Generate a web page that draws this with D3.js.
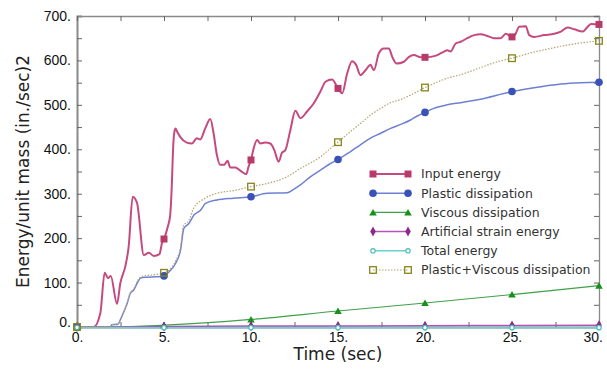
<!DOCTYPE html>
<html>
<head>
<meta charset="utf-8">
<script src="https://cdn.jsdelivr.net/npm/d3@7"></script>
<style>
  body { margin: 0; background: #fff; }
  svg { display: block; font-family: "DejaVu Sans", sans-serif; }
</style>
</head>
<body>
<div id="chart"></div>
<script>
// Energy histories

// Input energy
const inputT = [0, 0.96, 1.34, 1.59, 1.78, 1.94, 2.3, 2.49, 2.78, 2.97, 3.2, 3.45, 3.84, 4.13, 4.41, 4.74, 4.89, 5.0, 5.22, 5.35, 5.45, 5.52, 5.6, 5.66, 5.75, 5.93, 6.31, 6.6, 6.89, 7.08, 7.37, 7.66, 7.85, 8.04, 8.23, 8.46, 8.65, 8.81, 9.1, 9.38, 9.73, 9.86, 10.0, 10.15, 10.35, 10.54, 10.82, 11.11, 11.34, 11.59, 11.78, 11.97, 12.26, 12.55, 12.84, 13.22, 13.6, 13.99, 14.28, 14.66, 15.0, 15.24, 15.53, 15.81, 16.04, 16.29, 16.58, 16.87, 17.06, 17.35, 17.63, 17.92, 18.12, 18.37, 18.79, 19.08, 19.36, 19.75, 20.0, 20.33, 20.71, 21.09, 21.28, 21.47, 21.76, 22.05, 22.43, 22.82, 23.2, 23.59, 23.97, 24.35, 24.64, 25.0, 25.22, 25.41, 25.79, 25.99, 26.28, 26.85, 27.43, 27.81, 28.2, 28.58, 29.06, 29.35, 29.55, 30.0];
const inputE = [0, 0, 31, 122, 110, 115, 52, 99, 137, 181, 293, 279, 162, 167, 160, 164, 190, 198, 226, 250, 320, 400, 440, 447, 440, 428, 415, 413, 425, 422, 447, 468, 436, 387, 365, 365, 374, 359, 359, 352, 344, 361, 376, 402, 421, 413, 415, 413, 398, 372, 392, 398, 443, 487, 470, 485, 503, 530, 552, 557, 537, 526, 571, 598, 590, 567, 578, 590, 578, 616, 627, 627, 608, 593, 597, 608, 612, 607, 607, 608, 612, 620, 623, 620, 638, 642, 650, 657, 659, 655, 650, 650, 660, 653, 661, 676, 677, 657, 653, 657, 660, 665, 674, 670, 665, 676, 682, 681];

// Plastic dissipation
const plasticT = [0, 1.9, 2.0, 2.35, 2.49, 2.7, 2.88, 3.07, 3.26, 3.45, 3.65, 4.0, 4.5, 5.0, 5.28, 5.66, 5.95, 6.14, 6.43, 6.72, 7.1, 7.39, 8.04, 9.0, 10.0, 10.92, 12.07, 12.45, 12.84, 13.41, 13.99, 14.57, 15.0, 15.72, 16.29, 16.87, 17.45, 18.02, 18.6, 19.17, 19.56, 20.0, 20.51, 21.28, 22.05, 23.1, 25.0, 26.66, 27.81, 28.96, 30.0];
const plasticE = [0, 0, 5, 6, 16, 35, 53, 76, 83, 98, 110, 112, 113, 115, 124, 143, 173, 222, 233, 252, 263, 278, 286, 290, 293, 301, 302, 310, 320, 338, 353, 368, 377, 395, 410, 425, 436, 447, 456, 466, 475, 483, 492, 500, 505, 512, 530, 541, 547, 550, 551];

// Plastic + viscous dissipation
const pvT = [0, 1.9, 2.0, 2.35, 2.49, 2.7, 2.88, 3.07, 3.26, 3.45, 3.65, 4.0, 4.5, 5.0, 5.28, 5.66, 5.95, 6.12, 6.43, 6.7, 7.37, 8.04, 9.0, 10.0, 10.92, 12.07, 12.84, 13.99, 14.57, 15.0, 15.72, 16.29, 16.87, 17.45, 18.02, 18.6, 19.17, 20.0, 20.51, 21.28, 22.05, 23.2, 24.16, 25.0, 26.08, 27.23, 28.38, 30.0];
const pvE = [0, 0, 5, 7, 17, 36, 55, 78, 86, 101, 113, 116, 118, 122, 128, 148, 180, 228, 240, 267, 290, 301, 307, 316, 323, 338, 357, 383, 402, 416, 440, 458, 477, 492, 505, 512, 522, 539, 548, 560, 568, 584, 597, 605, 617, 627, 636, 644];

// Small series
const viscousT = [0, 2, 5, 10, 15, 20, 25, 30];
const viscousE = [0, 0, 4, 17, 36, 54, 73, 93];
const artificialT = [0, 2, 5, 10, 15, 20, 25, 30];
const artificialE = [0, 0, 1, 2, 2.5, 3, 3.5, 4];
const totalT = [0, 5, 10, 15, 20, 25, 30];
const totalE = [-1, -1.5, -1.5, -1.5, -1.5, -1.5, -1.5];

// Markers sit every 5 sec
const markerTimes = [0, 5, 10, 15, 20, 25, 30];

// Axes
const xTicks = d3.range(0, 30.01, 2.5);
const yTicks = d3.range(0, 701, 50);

const width = 607;
const height = 369;
const margin = { top: 16, right: 8, bottom: 42, left: 77 };

const svg = d3.select("#chart")
    .append("svg")
    .attr("width", width)
    .attr("height", height);

const x = d3.scaleLinear().domain([0, 30]).range([margin.left, width - margin.right]);
const y = d3.scaleLinear().domain([0, 700]).range([height - margin.bottom, margin.top]);

function zip(ts, es) {
    return ts.map((t, i) => ({ t: t, e: es[i] }));
}

// Interpolate a series at the marker times (markers lie on the curve)
function at(ts, es, t) {
    const f = d3.scaleLinear().domain(ts).range(es);
    return f(t);
}

const series = [
    { name: "Input energy", t: inputT, e: inputE, line: "#c44a7f", mark: "#b83a6a", width: 2, shape: "square", dash: null },
    { name: "Plastic dissipation", t: plasticT, e: plasticE, line: "#6f80d2", mark: "#3a52b8", width: 1.5, shape: "circle", dash: null },
    { name: "Viscous dissipation", t: viscousT, e: viscousE, line: "#3fa04a", mark: "#18901e", width: 1.2, shape: "triangle", dash: null },
    { name: "Artificial strain energy", t: artificialT, e: artificialE, line: "#b455b4", mark: "#8a2a8a", width: 1.5, shape: "diamond", dash: null },
    { name: "Total energy", t: totalT, e: totalE, line: "#6cd0d0", mark: "#4bbcbc", width: 1.5, shape: "ocircle", dash: null },
    { name: "Plastic+Viscous dissipation", t: pvT, e: pvE, line: "#b5a474", mark: "#86861c", width: 1.2, shape: "osquare", dash: "1.5,1.5" }
];

// Frame with inward ticks on all four sides
const xAxis = d3.axisBottom(x).tickValues(xTicks).tickSize(-5).tickPadding(5)
    .tickFormat(d => d % 5 === 0 ? d + "." : "");
const yAxis = d3.axisLeft(y).tickValues(yTicks).tickSize(-5).tickPadding(6)
    .tickFormat(d => d % 100 === 0 ? d + "." : "");

const gx = svg.append("g")
    .attr("transform", `translate(0,${y(0)})`)
    .call(xAxis);
const gy = svg.append("g")
    .attr("transform", `translate(${x(0)},0)`)
    .call(yAxis);
svg.append("g")
    .attr("transform", `translate(0,${y(700)})`)
    .call(d3.axisTop(x).tickValues(xTicks).tickSize(-5).tickFormat(""));
svg.append("g")
    .attr("transform", `translate(${x(30)},0)`)
    .call(d3.axisRight(y).tickValues(yTicks).tickSize(-5).tickFormat(""));

svg.selectAll(".domain").attr("stroke", "#8a8a8a").attr("stroke-width", 1.3);
gx.select(".domain").attr("stroke-width", 2);
gy.select(".domain").attr("stroke-width", 2);
svg.selectAll(".tick line").attr("stroke", "#666");
svg.selectAll(".tick text")
    .attr("fill", "#111")
    .style("font-size", "14px");

// "0." on the y axis sits on the axis instead of centred on it
gy.selectAll(".tick").filter(d => d === 0).select("text").attr("dy", "-0.05em");
// keep the last x label inside the window
gx.selectAll(".tick").filter(d => d === 30).select("text").attr("dx", "-0.45em");

// Curves
const lineGen = d3.line()
    .x(d => x(d.t))
    .y(d => y(d.e))
    .curve(d3.curveMonotoneX);

series.forEach(s => {
    svg.append("path")
        .datum(zip(s.t, s.e))
        .attr("fill", "none")
        .attr("stroke", s.line)
        .attr("stroke-width", s.width)
        .attr("stroke-dasharray", s.dash)
        .attr("stroke-linejoin", "round")
        .attr("d", lineGen);
});

function drawMarker(g, shape, cx, cy, color) {
    if (shape === "square") {
        g.append("rect").attr("x", cx - 3.5).attr("y", cy - 3.5).attr("width", 7).attr("height", 7).attr("fill", color);
    } else if (shape === "circle") {
        g.append("circle").attr("cx", cx).attr("cy", cy).attr("r", 3.8).attr("fill", color);
    } else if (shape === "triangle") {
        g.append("path").attr("d", `M${cx},${cy - 3.5}L${cx + 3.8},${cy + 3}L${cx - 3.8},${cy + 3}Z`).attr("fill", color);
    } else if (shape === "diamond") {
        g.append("path").attr("d", `M${cx},${cy - 5}L${cx + 2.8},${cy}L${cx},${cy + 5}L${cx - 2.8},${cy}Z`).attr("fill", color);
    } else if (shape === "ocircle") {
        g.append("circle").attr("cx", cx).attr("cy", cy).attr("r", 2.2).attr("fill", "#fff").attr("stroke", color).attr("stroke-width", 1.2);
    } else if (shape === "osquare") {
        g.append("rect").attr("x", cx - 3.3).attr("y", cy - 3.3).attr("width", 6.6).attr("height", 6.6)
            .attr("fill", "none").attr("stroke", color).attr("stroke-width", 1.3);
    }
}

// Markers every 5 sec
series.forEach(s => {
    const g = svg.append("g");
    markerTimes.forEach(t => {
        drawMarker(g, s.shape, x(t), y(at(s.t, s.e, t)), s.mark);
    });
});

// Axis titles
svg.append("text")
    .attr("x", (x(0) + x(30)) / 2)
    .attr("y", 360)
    .attr("text-anchor", "middle")
    .attr("fill", "#222")
    .style("font-size", "17px")
    .text("Time (sec)");

svg.append("text")
    .attr("transform", `translate(29,${(y(0) + y(700)) / 2}) rotate(-90)`)
    .attr("text-anchor", "middle")
    .attr("fill", "#222")
    .style("font-size", "17px")
    .text("Energy/unit mass (in./sec)2");

// Legend
const legend = svg.append("g").attr("transform", "translate(373,174)");
series.forEach((s, i) => {
    const row = legend.append("g").attr("transform", `translate(0,${i * 19.2})`);
    row.append("line")
        .attr("x1", 0).attr("x2", 35).attr("y1", 0).attr("y2", 0)
        .attr("stroke", s.line)
        .attr("stroke-width", s.width)
        .attr("stroke-dasharray", s.dash);
    drawMarker(row, s.shape, 0, 0, s.mark);
    drawMarker(row, s.shape, 35, 0, s.mark);
    row.append("text")
        .attr("x", 48)
        .attr("y", 0)
        .attr("dy", "0.35em")
        .attr("fill", "#333")
        .style("font-size", "12.5px")
        .text(s.name);
});
</script>
</body>
</html>
